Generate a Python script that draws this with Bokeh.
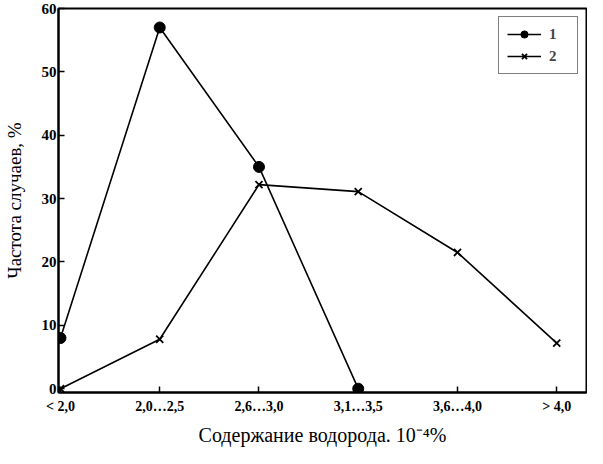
from bokeh.plotting import figure
from bokeh.models import Range1d, FixedTicker, Legend, LegendItem
from bokeh.embed import file_html
from bokeh.resources import INLINE

categories = ["< 2,0", "2,0…2,5", "2,6…3,0", "3,1…3,5", "3,6…4,0", "> 4,0"]
series1 = [8, 57, 35, 0]
series2 = [0, 7.8, 32.2, 31.1, 21.5, 7.2]
y_ticks = [0, 10, 20, 30, 40, 50, 60]

x1 = list(range(len(series1)))
x2 = list(range(len(series2)))

W, H = 587, 448
p = figure(width=W, height=H, output_backend="svg", toolbar_location=None,
           x_range=Range1d(-0.02, 5.3), y_range=Range1d(-0.6, 60),
           min_border_left=56, min_border_right=1, min_border_top=8,
           min_border_bottom=10)

p.background_fill_color = "white"
p.border_fill_color = "white"
p.outline_line_color = "black"
p.outline_line_width = 2
p.xgrid.visible = False
p.ygrid.visible = False

FONT = "Liberation Serif"

r1 = p.line(x1, series1, line_color="black", line_width=1.6)
m1 = p.scatter(x1, series1, marker="circle", size=11, fill_color="black", line_color="black")
r2 = p.line(x2, series2, line_color="black", line_width=1.6)
m2 = p.scatter(x2, series2, marker="x", size=10, line_color="black", line_width=1.8)

p.xaxis.ticker = FixedTicker(ticks=list(range(len(categories))))
p.xaxis.major_label_overrides = {i: c for i, c in enumerate(categories)}
p.yaxis.ticker = FixedTicker(ticks=y_ticks)

for ax in (p.xaxis[0], p.yaxis[0]):
    ax.axis_line_width = 2
    ax.axis_line_color = "black"
    ax.major_tick_in = 6
    ax.major_tick_out = 0
    ax.major_tick_line_width = 1.5
    ax.minor_tick_line_color = None
    ax.major_label_text_font = FONT
    ax.major_label_text_font_style = "bold"
    ax.major_label_text_color = "black"
    ax.axis_label_text_font = FONT
    ax.axis_label_text_font_style = "normal"
    ax.axis_label_text_color = "black"

p.xaxis.major_label_text_font_size = "14px"
p.yaxis.major_label_text_font_size = "15px"
p.xaxis.axis_label_text_font_size = "20px"
p.yaxis.axis_label_text_font_size = "19px"
p.xaxis.major_label_standoff = 6
p.yaxis.major_label_standoff = 2
p.xaxis.axis_label = "Содержание водорода. 10⁻⁴%"
p.yaxis.axis_label = "Частота случаев, %"
p.xaxis.axis_label_standoff = 7
p.yaxis.axis_label_standoff = 14

legend = Legend(items=[LegendItem(label="1", renderers=[r1, m1]),
                       LegendItem(label="2", renderers=[r2, m2])],
                location="top_right")
legend.label_text_font = FONT
legend.label_text_font_style = "bold"
legend.label_text_font_size = "15px"
legend.border_line_color = "black"
legend.border_line_width = 1.5
legend.glyph_width = 34
legend.glyph_height = 18
legend.spacing = 4
legend.padding = 8
legend.margin = 8
legend.label_standoff = 8
legend.background_fill_alpha = 1
p.add_layout(legend)

open("out.html", "w").write(file_html(p, INLINE))
